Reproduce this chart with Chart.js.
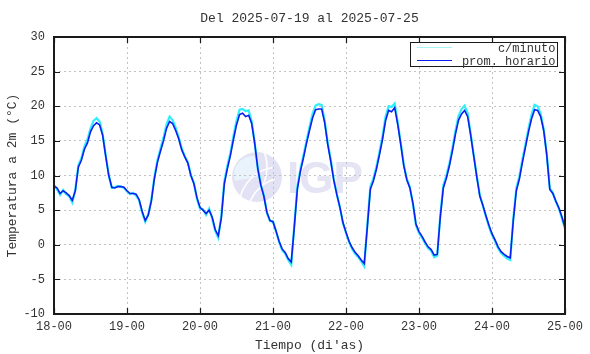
<!DOCTYPE html>
<html>
<head>
<meta charset="utf-8">
<script src="https://cdn.jsdelivr.net/npm/chart.js@4.4.0/dist/chart.umd.min.js"></script>
<style>
  html, body { margin: 0; background: #fff; }
</style>
</head>
<body>
<canvas id="grafico" width="590" height="354"></canvas>
<script>
// tick labels of the time axis (one per day, every 24 h)
const dias = ['18-00', '19-00', '20-00', '21-00', '22-00', '23-00', '24-00', '25-00'];

// hourly average temperature (degC), one value per hour from 18-00 to 25-00
const horario = [
  8.5, 8.2, 7.4, 7.8, 7.5, 7.1, 6.4, 7.8, 11.2, 12.2, 13.8, 14.7, 16.3, 17.2, 17.6, 17.3, 15.8, 12.8, 10.0, 8.3, 8.2, 8.4, 8.4, 8.3,
  7.8, 7.4, 7.4, 7.3, 6.5, 4.8, 3.5, 4.3, 6.3, 9.5, 11.9, 13.5, 15.0, 16.8, 17.8, 17.5, 16.5, 15.3, 13.7, 12.7, 11.8, 10.0, 8.8, 6.8,
  5.4, 5.0, 4.5, 5.0, 4.0, 2.2, 1.3, 3.8, 8.8, 11.0, 12.9, 15.2, 17.3, 18.8, 19.0, 18.5, 18.7, 17.5, 14.6, 11.0, 8.6, 7.0, 4.7, 3.5,
  3.3, 2.0, 0.5, -0.6, -1.1, -2.0, -2.5, 2.5, 8.0, 10.6, 12.5, 14.6, 16.5, 18.3, 19.5, 19.6, 19.6, 17.6, 14.5, 12.0, 9.3, 7.2, 5.4, 3.2,
  1.8, 0.5, -0.4, -1.1, -1.6, -2.2, -2.7, 2.5, 8.0, 9.2, 10.9, 13.0, 15.2, 17.9, 19.4, 19.2, 19.8, 17.4, 14.5, 11.4, 9.4, 8.2, 6.0, 3.0,
  1.9, 1.2, 0.4, -0.3, -0.7, -1.5, -1.4, 4.0, 8.2, 9.6, 11.4, 13.6, 16.0, 18.0, 18.9, 19.4, 18.5, 15.8, 12.8, 9.8, 7.0, 5.7, 4.2, 2.8,
  1.6, 0.7, -0.3, -1.0, -1.4, -1.7, -1.9, 3.5, 7.8, 9.5, 11.9, 14.1, 16.3, 18.2, 19.5, 19.4, 18.5, 16.5, 13.0, 8.0, 7.4, 6.3, 5.3, 4.0, 2.5
];

// per-minute readings, sampled at the same hours (upper spikes at the peaks)
const minuto = [
  8.6, 8.0, 7.2, 7.9, 7.3, 7.0, 6.1, 7.9, 11.5, 12.5, 14.2, 15.2, 16.8, 17.9, 18.3, 17.8, 16.0, 12.9, 10.1, 8.2, 8.3, 8.5, 8.4, 8.2,
  7.7, 7.3, 7.5, 7.1, 6.4, 4.6, 3.3, 4.4, 6.5, 9.8, 12.2, 13.9, 15.5, 17.4, 18.5, 18.0, 16.9, 15.5, 13.9, 12.8, 11.9, 10.1, 8.9, 6.6,
  5.2, 5.1, 4.3, 5.2, 3.8, 2.0, 1.0, 4.2, 9.2, 11.4, 13.3, 15.7, 17.9, 19.5, 19.6, 19.3, 19.4, 17.8, 14.7, 11.0, 8.7, 7.1, 4.6, 3.4,
  3.4, 1.9, 0.4, -0.8, -1.3, -2.2, -2.9, 2.8, 8.4, 10.9, 12.9, 15.0, 17.0, 18.9, 20.1, 20.3, 20.2, 17.9, 14.7, 12.3, 9.4, 7.3, 5.4, 3.1,
  1.7, 0.4, -0.6, -1.3, -1.8, -2.4, -3.1, 2.8, 8.4, 9.6, 11.3, 13.4, 15.7, 18.5, 20.0, 19.9, 20.4, 17.7, 14.7, 11.6, 9.5, 8.3, 5.9, 2.8,
  1.7, 1.0, 0.2, -0.5, -0.9, -1.8, -1.6, 4.3, 8.6, 10.0, 11.8, 14.0, 16.5, 18.6, 19.6, 20.1, 19.0, 16.0, 12.9, 9.9, 7.2, 5.6, 4.1, 2.6,
  1.4, 0.5, -0.5, -1.2, -1.6, -2.0, -2.2, 3.8, 8.2, 9.9, 12.3, 14.5, 16.8, 18.8, 20.2, 20.0, 18.9, 16.7, 13.1, 8.2, 7.5, 6.2, 5.2, 3.8, 2.3
];

const mono = "'Liberation Mono', 'DejaVu Sans Mono', monospace";
const txt = '#333';

// faint IGP logo behind the curves
const marcaAgua = {
  id: 'marcaAgua',
  beforeDraw(chart) {
    const ctx = chart.ctx;
    ctx.save();
    const cx = 257, cy = 177, r = 25;
    ctx.fillStyle = '#e2e2f4';
    ctx.beginPath(); ctx.arc(cx, cy, r, 0, Math.PI * 2); ctx.fill();
    ctx.fillStyle = '#e9f3fc';
    ctx.beginPath(); ctx.arc(cx - 4, cy - 2, r - 6, Math.PI * 0.9, Math.PI * 1.6); ctx.lineTo(cx, cy); ctx.fill();
    ctx.strokeStyle = '#ffffff';
    ctx.lineWidth = 1.5;
    ctx.beginPath(); ctx.arc(cx + 22, cy + 30, 40, Math.PI * 1.05, Math.PI * 1.45); ctx.stroke();
    ctx.beginPath(); ctx.arc(cx + 30, cy + 40, 40, Math.PI * 1.1, Math.PI * 1.4); ctx.stroke();
    ctx.beginPath(); ctx.arc(cx - 30, cy - 10, 40, Math.PI * 1.85, Math.PI * 0.15); ctx.stroke();
    ctx.fillStyle = '#e4e4f4';
    ctx.font = "bold 44px 'Liberation Sans', Arial, sans-serif";
    ctx.textBaseline = 'alphabetic';
    ctx.fillText('IGP', 287, 193);
    ctx.restore();
  }
};

// gnuplot-like frame with inward ticks, legend box and title
const marco = {
  id: 'marco',
  afterDraw(chart) {
    const { ctx, chartArea: a, scales } = chart;
    ctx.save();
    ctx.strokeStyle = '#1a1a1a';
    ctx.lineWidth = 1.2;
    scales.x.ticks.forEach(t => {
      const px = Math.round(scales.x.getPixelForValue(t.value)) + 0.5;
      ctx.beginPath();
      ctx.moveTo(px, a.bottom); ctx.lineTo(px, a.bottom - 6);
      ctx.moveTo(px, a.top); ctx.lineTo(px, a.top + 6);
      ctx.stroke();
    });
    scales.y.ticks.forEach(t => {
      const py = Math.round(scales.y.getPixelForValue(t.value)) + 0.5;
      ctx.beginPath();
      ctx.moveTo(a.left, py); ctx.lineTo(a.left + 6, py);
      ctx.moveTo(a.right, py); ctx.lineTo(a.right - 6, py);
      ctx.stroke();
    });
    ctx.lineWidth = 2;
    ctx.strokeRect(a.left, a.top, a.right - a.left, a.bottom - a.top);

    // legend
    const bx = 410.5, by = 42.5, bw = 147, bh = 24;
    ctx.fillStyle = '#fff';
    ctx.fillRect(bx, by, bw, bh);
    ctx.lineWidth = 1;
    ctx.strokeStyle = '#1a1a1a';
    ctx.strokeRect(bx, by, bw, bh);
    ctx.font = '12px ' + mono;
    ctx.textAlign = 'right';
    ctx.textBaseline = 'middle';
    chart.data.datasets.forEach((ds, i) => {
      const ly = by + 5 + i * 13;
      ctx.strokeStyle = ds.legendColor;
      ctx.lineWidth = 1;
      ctx.beginPath(); ctx.moveTo(417, ly); ctx.lineTo(452, ly); ctx.stroke();
      ctx.fillStyle = txt;
      ctx.fillText(ds.label, bx + bw - 2, ly + 1);
    });

    // title
    ctx.font = '13px ' + mono;
    ctx.textAlign = 'center';
    ctx.fillText('Del 2025-07-19 al 2025-07-25', (a.left + a.right) / 2, 19);
    ctx.restore();
  }
};

new Chart(document.getElementById('grafico'), {
  type: 'line',
  data: {
    datasets: [
      {
        label: 'c/minuto',
        data: minuto.map((v, i) => ({ x: i, y: v })),
        borderColor: '#30eefc',
        legendColor: '#a8f4f8',
        borderWidth: 2.2,
        pointRadius: 0,
        tension: 0,
        order: 2
      },
      {
        label: 'prom. horario',
        data: horario.map((v, i) => ({ x: i, y: v })),
        borderColor: '#0a1ef0',
        legendColor: '#0a1ef0',
        borderWidth: 1.6,
        pointRadius: 0,
        tension: 0,
        order: 1
      }
    ]
  },
  options: {
    responsive: false,
    animation: false,
    layout: { padding: { top: 37, right: 25, left: 0, bottom: 0 } },
    plugins: {
      legend: { display: false },
      title: { display: false },
      tooltip: { enabled: false }
    },
    scales: {
      x: {
        type: 'linear',
        min: 0,
        max: 168,
        afterFit: s => { s.height = 40; },
        ticks: {
          stepSize: 24,
          autoSkip: false,
          maxRotation: 0,
          padding: 6,
          color: txt,
          font: { family: mono, size: 12 },
          callback: v => dias[v / 24]
        },
        grid: { color: '#c2c2c2', drawTicks: false, lineWidth: 1 },
        border: { display: false, dash: [2, 3] },
        title: {
          display: true,
          text: "Tiempo (di'as)",
          color: txt,
          font: { family: mono, size: 13 },
          padding: { top: 0, bottom: 1 }
        }
      },
      y: {
        min: -10,
        max: 30,
        afterFit: s => { s.width = 54; },
        ticks: {
          stepSize: 5,
          padding: 9,
          color: txt,
          font: { family: mono, size: 12 }
        },
        grid: { color: '#c2c2c2', drawTicks: false, lineWidth: 1 },
        border: { display: false, dash: [2, 3] },
        title: {
          display: true,
          text: 'Temperatura a 2m (°C)',
          color: txt,
          font: { family: mono, size: 13 },
          padding: { top: 5, bottom: 0 }
        }
      }
    }
  },
  plugins: [marcaAgua, marco]
});
</script>
</body>
</html>
